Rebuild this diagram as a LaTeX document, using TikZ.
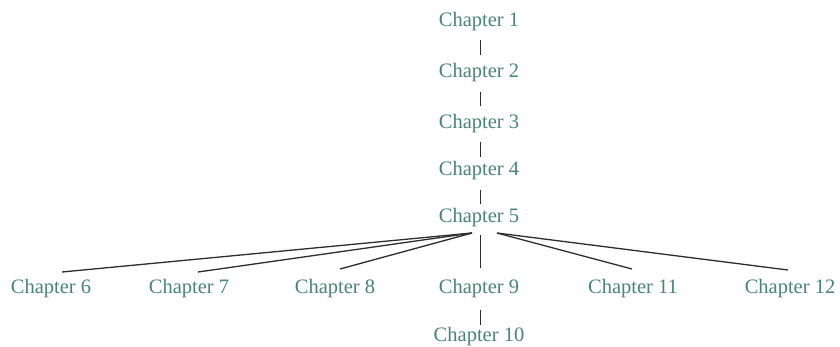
\documentclass[tikz,border=0pt]{standalone}
\usepackage{fontspec}
\setmainfont{Liberation Serif}
\usetikzlibrary{calc}
\definecolor{chapcol}{RGB}{72,134,116}
\definecolor{linecol}{RGB}{45,45,45}
\begin{document}
\begin{tikzpicture}[x=1pt,y=-1pt,
  chap/.style={inner sep=0pt,anchor=base,text=chapcol,font=\fontsize{20.5}{24}\selectfont},
  link/.style={draw=linecol,line width=1.3pt}]
\useasboundingbox[fill=white] (0,0) rectangle (840,346);
\node[chap] (c1) at (479,26) {Chapter 1};
\node[chap] (c2) at (479,77) {Chapter 2};
\node[chap] (c3) at (479,128) {Chapter 3};
\node[chap] (c4) at (479,175) {Chapter 4};
\node[chap] (c5) at (479,222) {Chapter 5};
\node[chap] (c6) at (51,293) {Chapter 6};
\node[chap] (c7) at (189,293) {Chapter 7};
\node[chap] (c8) at (335,293) {Chapter 8};
\node[chap] (c9) at (479,293) {Chapter 9};
\node[chap] (c11) at (633,293) {Chapter 11};
\node[chap] (c12) at (790,293) {Chapter 12};
\node[chap] (c10) at (479,341) {Chapter 10};
\draw[link,line width=1pt] ($(c1.base)+(1,14)$) -- ($(c2.base)+(1,-22)$);
\draw[link,line width=1pt] ($(c2.base)+(1,15)$) -- ($(c3.base)+(1,-22)$);
\draw[link,line width=1pt] ($(c3.base)+(1,14)$) -- ($(c4.base)+(1,-18)$);
\draw[link,line width=1pt] ($(c4.base)+(1,15)$) -- ($(c5.base)+(1,-18)$);
\draw[link,line width=1pt] ($(c5.base)+(1,13)$) -- ($(c9.base)+(1,-25)$);
\draw[link,line width=1pt] ($(c9.base)+(1,17)$) -- ($(c10.base)+(1,-16)$);
\draw[link] ($(c5.base)+(-7,11)$) -- ($(c6.base)+(11,-21)$);
\draw[link] ($(c5.base)+(-7,11)$) -- ($(c7.base)+(9,-21)$);
\draw[link] ($(c5.base)+(-7,11)$) -- ($(c8.base)+(5,-24)$);
\draw[link] ($(c5.base)+(18,11)$) -- ($(c11.base)+(-1,-24)$);
\draw[link] ($(c5.base)+(18,11)$) -- ($(c12.base)+(-2,-23)$);
\end{tikzpicture}
\end{document}
